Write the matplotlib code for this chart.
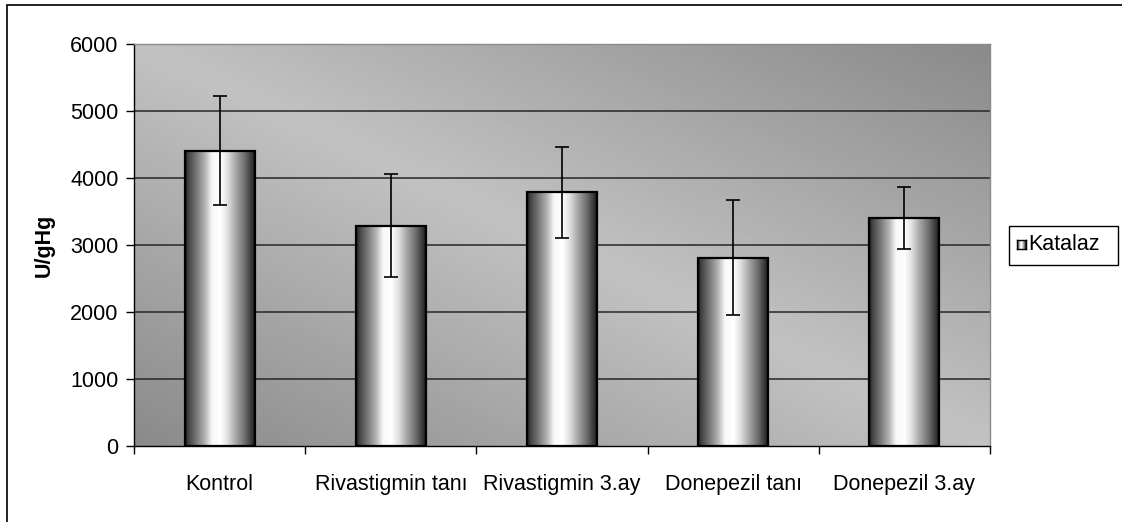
import numpy as np
import matplotlib
matplotlib.use("Agg")
import matplotlib.pyplot as plt
from matplotlib.patches import Rectangle

plt.rcParams['font.family'] = ['Liberation Sans', 'DejaVu Sans']

categories = ["Kontrol", "Rivastigmin tanı", "Rivastigmin 3.ay",
              "Donepezil tanı", "Donepezil 3.ay"]
katalaz = [4410, 3290, 3790, 2810, 3400]
katalaz_err = [810, 770, 680, 860, 460]
y_ticks = [0, 1000, 2000, 3000, 4000, 5000, 6000]
series_name = "Katalaz"
y_label = "U/gHg"

FS = 15.5
W, H = 1122, 522
fig = plt.figure(figsize=(W / 100, H / 100), dpi=100)

# outer chart frame
fig.patches.append(Rectangle((7 / W, -0.05), 1.1, 1 - 5 / H + 0.05,
                             transform=fig.transFigure, fill=False,
                             edgecolor="black", linewidth=1.2, zorder=-1))

ax = fig.add_axes([134 / W, 1 - 446 / H, (990 - 134) / W, (446 - 44) / H])

# diagonal gray gradient for plot area
n = 300
xx, yy = np.meshgrid(np.linspace(0, 1, n), np.linspace(0, 1, n))
u = xx + yy
light, dark = 0.76, 0.54
bg = dark + (light - dark) * (1 - np.abs(u - 1))
ax.imshow(bg, cmap="gray", vmin=0, vmax=1, origin="lower",
          extent=[-0.5, len(categories) - 0.5, 0, 6000], aspect="auto",
          zorder=0, interpolation="bilinear")

for yv in y_ticks[1:-1]:
    ax.axhline(yv, color="#262626", linewidth=1.1, zorder=1)

# cylinder shading across each bar
pos = [0, 0.04, 0.15, 0.28, 0.38, 0.5, 0.6, 0.72, 0.85, 0.95, 1]
val = [0.08, 0.25, 0.45, 0.7, 0.97, 1.0, 0.88, 0.65, 0.42, 0.2, 0.05]
prof = np.interp(np.linspace(0, 1, 200), pos, val)[None, :]

bw = 0.41
x = np.arange(len(categories))
bars = ax.bar(x, katalaz, width=bw, facecolor="none", edgecolor="black",
              linewidth=1.6, zorder=3)
for b in bars:
    x0, w, h = b.get_x(), b.get_width(), b.get_height()
    ax.imshow(prof, cmap="gray", vmin=0, vmax=1, aspect="auto",
              extent=[x0, x0 + w, 0, h], zorder=2, interpolation="bilinear")

ax.errorbar(x, katalaz, yerr=katalaz_err, fmt="none", ecolor="black",
            elinewidth=1.2, capsize=4.7, capthick=1.2, zorder=4)

ax.set_xlim(-0.5, len(categories) - 0.5)
ax.set_ylim(0, 6000)
ax.set_yticks(y_ticks)
ax.set_yticklabels([str(v) for v in y_ticks], fontsize=FS)
ax.set_xticks(x)
ax.set_xticklabels(categories, fontsize=FS)
ax.tick_params(axis="x", length=0, pad=20)
ax.set_xticks(np.arange(-0.5, len(categories)), minor=True)
ax.tick_params(axis="x", which="minor", length=6, direction="out", width=1)
ax.tick_params(axis="y", length=6, direction="out", width=1, pad=5)
ax.set_ylabel(y_label, fontsize=FS, fontweight="bold", labelpad=11)

for s in ["top", "right"]:
    ax.spines[s].set_color("#8a8a8a")
    ax.spines[s].set_linewidth(1.0)
for s in ["left", "bottom"]:
    ax.spines[s].set_color("black")
    ax.spines[s].set_linewidth(1.0)

# legend box
fig.patches.append(Rectangle((1009 / W, 1 - 265 / H), 109 / W, 39 / H,
                             transform=fig.transFigure, facecolor="white",
                             edgecolor="black", linewidth=1.0, zorder=-1))
lax = fig.add_axes([1017 / W, 1 - 249 / H, 9 / W, 9 / H], zorder=5)
lax.imshow(prof, cmap="gray", vmin=0, vmax=1, aspect="auto",
           extent=[0, 1, 0, 1], interpolation="bilinear")
lax.set_xticks([])
lax.set_yticks([])
for s in lax.spines.values():
    s.set_linewidth(1.0)
fig.text(1028 / W, 1 - 245 / H, series_name, fontsize=FS, va="center",
         ha="left")

fig.savefig("out.png", dpi=100)
